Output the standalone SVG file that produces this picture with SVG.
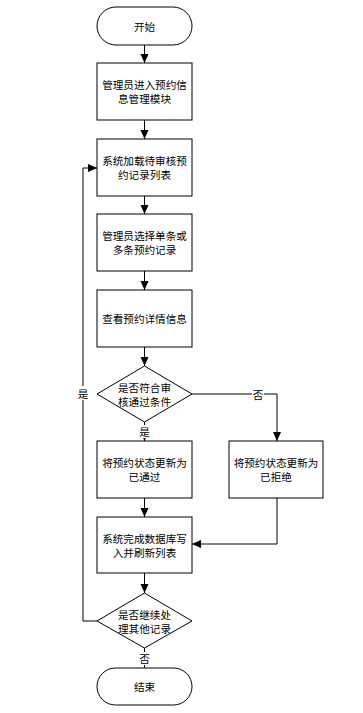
<svg xmlns="http://www.w3.org/2000/svg" width="363" height="713" viewBox="0 0 363 713">
<style>
.s{fill:#fff;stroke:#000;stroke-width:1}
.t{font-family:"Noto Sans CJK SC","Liberation Sans",sans-serif;font-size:10.6px;fill:#000;text-anchor:middle;dominant-baseline:central}
.c{fill:none;stroke:#000;stroke-width:1}
</style>
<defs>
<marker id="a" markerWidth="10" markerHeight="10" refX="9" refY="5" orient="auto" markerUnits="userSpaceOnUse">
<path d="M0,1 L9,5 L0,9 Z" fill="#000"/>
</marker>
</defs>
<rect width="363" height="713" fill="#fff"/>
<g id="connectors">
<line class="c" x1="144.5" y1="45" x2="144.5" y2="63" marker-end="url(#a)"/>
<line class="c" x1="144.5" y1="120" x2="144.5" y2="139" marker-end="url(#a)"/>
<line class="c" x1="144.5" y1="196" x2="144.5" y2="214" marker-end="url(#a)"/>
<line class="c" x1="144.5" y1="271" x2="144.5" y2="290" marker-end="url(#a)"/>
<line class="c" x1="144.5" y1="347" x2="144.5" y2="366" marker-end="url(#a)"/>
<line class="c" x1="144.5" y1="422" x2="144.5" y2="441" marker-end="url(#a)"/>
<polyline class="c" points="192,394 277,394 277,441" marker-end="url(#a)"/>
<line class="c" x1="144.5" y1="498" x2="144.5" y2="517" marker-end="url(#a)"/>
<polyline class="c" points="277,498 277,544 192,544" marker-end="url(#a)"/>
<line class="c" x1="144.5" y1="573" x2="144.5" y2="593" marker-end="url(#a)"/>
<polyline class="c" points="97,621 83,621 83,168 97,168" marker-end="url(#a)"/>
<line class="c" x1="144.5" y1="648" x2="144.5" y2="668"/>
<rect x="252" y="387" width="12" height="14" fill="#fff"/>
<text class="t" x="258" y="394">否</text>
<rect x="138" y="425" width="13" height="13" fill="#fff"/>
<text class="t" x="144.5" y="431">是</text>
<rect x="77" y="386" width="12" height="14" fill="#fff"/>
<text class="t" x="83" y="393">是</text>
<rect x="138" y="652" width="13" height="13" fill="#fff"/>
<text class="t" x="144.5" y="658">否</text>
</g>
<g id="start"><rect class="s" x="97" y="7" width="95" height="38" rx="19" ry="19"/><text class="t" x="144.5" y="26">开始</text></g>
<g id="enter"><rect class="s" x="97" y="63" width="95" height="57"/><text class="t" x="144.5" y="84.5">管理员进入预约信</text><text class="t" x="144.5" y="98.5">息管理模块</text></g>
<g id="load"><rect class="s" x="97" y="139" width="95" height="57"/><text class="t" x="144.5" y="160.5">系统加载待审核预</text><text class="t" x="144.5" y="174.5">约记录列表</text></g>
<g id="select"><rect class="s" x="97" y="214" width="95" height="57"/><text class="t" x="144.5" y="235.5">管理员选择单条或</text><text class="t" x="144.5" y="249.5">多条预约记录</text></g>
<g id="view"><rect class="s" x="97" y="290" width="95" height="57"/><text class="t" x="144.5" y="318.5">查看预约详情信息</text></g>
<g id="check"><polygon class="s" points="144.5,366 192,394 144.5,422 97,394"/><text class="t" x="144.5" y="387">是否符合审</text><text class="t" x="144.5" y="401">核通过条件</text></g>
<g id="approve"><rect class="s" x="97" y="441" width="95" height="57"/><text class="t" x="144.5" y="462.5">将预约状态更新为</text><text class="t" x="144.5" y="476.5">已通过</text></g>
<g id="reject"><rect class="s" x="229" y="441" width="94" height="57"/><text class="t" x="276" y="462.5">将预约状态更新为</text><text class="t" x="276" y="476.5">已拒绝</text></g>
<g id="save"><rect class="s" x="97" y="517" width="95" height="56"/><text class="t" x="144.5" y="538">系统完成数据库写</text><text class="t" x="144.5" y="552">入并刷新列表</text></g>
<g id="continue"><polygon class="s" points="144.5,593 192,621 144.5,648 97,621"/><text class="t" x="144.5" y="614">是否继续处</text><text class="t" x="144.5" y="628">理其他记录</text></g>
<g id="end"><rect class="s" x="97" y="668" width="95" height="37" rx="18.5" ry="18.5"/><text class="t" x="144.5" y="686.5">结束</text></g>
</svg>
